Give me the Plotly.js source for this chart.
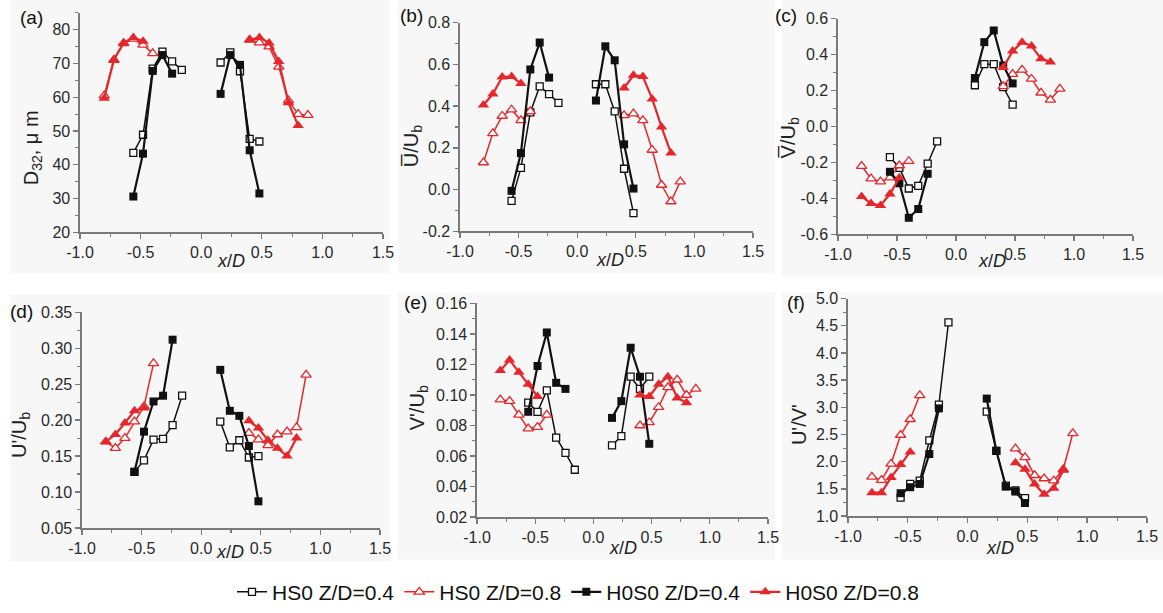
<!DOCTYPE html>
<html><head><meta charset="utf-8">
<script src="https://cdn.plot.ly/plotly-3.0.1.min.js"></script>
<style>html,body{margin:0;padding:0;background:#fff;}</style>
</head><body>
<div id="chart" style="width:1163px;height:613px;"></div>
<script>
// x positions (x/D); null separates the two jet halves
const xHS04  = [-0.56,-0.48,-0.40,-0.32,-0.24,-0.16,null,0.16,0.24,0.32,0.40,0.48];
const xHS08  = [-0.80,-0.72,-0.64,-0.56,-0.48,-0.40,null,0.40,0.48,0.56,0.64,0.72,0.80,0.88];
const xH0S04 = [-0.56,-0.48,-0.40,-0.32,-0.24,null,0.16,0.24,0.32,0.40,0.48];
const xH0S08 = [-0.80,-0.72,-0.64,-0.56,-0.48,null,0.40,0.48,0.56,0.64,0.72,0.80];

const seriesNames = ["HS0 Z/D=0.4","HS0 Z/D=0.8","H0S0 Z/D=0.4","H0S0 Z/D=0.8"];

// (a) D32, um
const a_HS04  = [43.5,48.9,68.5,73.5,70.6,68.1,null,70.3,73.3,67.7,47.7,46.9];
const a_HS08  = [60.5,71.0,76.0,77.3,75.5,73.0,null,77.0,76.2,75.0,69.0,59.0,55.0,54.7];
const a_H0S04 = [30.6,43.3,67.8,72.5,67.0,null,61.0,72.5,69.6,44.3,31.5];
const a_H0S08 = [59.7,71.2,76.1,77.7,76.6,null,77.0,77.7,76.1,70.6,58.4,51.6];
// (b) mean U / Ub
const b_HS04  = [-0.054,0.104,0.37,0.495,0.458,0.416,null,0.505,0.505,0.375,0.10,-0.113];
const b_HS08  = [0.13,0.27,0.353,0.383,0.332,0.375,null,0.356,0.364,0.332,0.19,0.022,-0.057,0.038];
const b_H0S04 = [-0.006,0.175,0.576,0.705,0.537,null,0.427,0.687,0.62,0.217,0.005];
const b_H0S08 = [0.406,0.458,0.54,0.542,0.509,null,0.487,0.548,0.542,0.435,0.30,0.175];
// (c) mean V / Ub
const c_HS04  = [-0.17,-0.23,-0.345,-0.33,-0.206,-0.083,null,0.23,0.347,0.347,0.22,0.122];
const c_HS08  = [-0.22,-0.29,-0.307,-0.285,-0.217,-0.193,null,0.224,0.292,0.316,0.265,0.188,0.149,0.21];
const c_H0S04 = [-0.252,-0.316,-0.508,-0.459,-0.263,null,0.27,0.47,0.535,0.34,0.24];
const c_H0S08 = [-0.39,-0.428,-0.44,-0.376,-0.285,null,0.329,0.42,0.47,0.448,0.378,0.36];
// (d) U' / Ub
const d_HS04  = [0.128,0.144,0.173,0.174,0.193,0.234,null,0.198,0.162,0.172,0.148,0.15];
const d_HS08  = [0.17,0.161,0.175,0.198,0.219,0.279,null,0.182,0.173,0.165,0.18,0.184,0.19,0.263];
const d_H0S04 = [0.128,0.184,0.226,0.234,0.312,null,0.27,0.213,0.206,0.164,0.087];
const d_H0S08 = [0.17,0.18,0.196,0.213,0.217,null,0.199,0.189,0.172,0.161,0.15,0.175];
// (e) V' / Ub
const e_HS04  = [0.095,0.089,0.103,0.072,0.062,0.051,null,0.067,0.073,0.112,0.104,0.112];
const e_HS08  = [0.097,0.096,0.087,0.078,0.079,0.087,null,0.080,0.082,0.092,0.105,0.110,0.100,0.104];
const e_H0S04 = [0.089,0.119,0.141,0.108,0.104,null,0.085,0.096,0.131,0.112,0.068];
const e_H0S08 = [0.116,0.123,0.115,0.107,0.099,null,0.100,0.099,0.107,0.112,0.098,0.095];
// (f) U' / V'
const f_HS04  = [1.34,1.59,1.65,2.39,3.05,4.56,null,2.92,2.20,1.56,1.47,1.33];
const f_HS08  = [1.72,1.66,1.96,2.49,2.78,3.22,null,2.24,2.08,1.75,1.69,1.65,1.86,2.52];
const f_H0S04 = [1.42,1.53,1.59,2.14,2.98,null,3.16,2.20,1.54,1.45,1.24];
const f_H0S08 = [1.43,1.43,1.71,1.95,2.18,null,1.98,1.86,1.59,1.40,1.51,1.84];

// tick labels
const xTickVals = [-1.0,-0.5,0.0,0.5,1.0,1.5];
const xTickText = ["-1.0","-0.5","0.0","0.5","1.0","1.5"];
const yTickVals = [
  [20,30,40,50,60,70,80],
  [-0.2,0.0,0.2,0.4,0.6,0.8],
  [-0.6,-0.4,-0.2,0.0,0.2,0.4,0.6],
  [0.05,0.10,0.15,0.20,0.25,0.30,0.35],
  [0.02,0.04,0.06,0.08,0.10,0.12,0.14,0.16],
  [1.0,1.5,2.0,2.5,3.0,3.5,4.0,4.5,5.0]
];
const yTickText = [
  ["20","30","40","50","60","70","80"],
  ["-0.2","0.0","0.2","0.4","0.6","0.8"],
  ["-0.6","-0.4","-0.2","0.0","0.2","0.4","0.6"],
  ["0.05","0.10","0.15","0.20","0.25","0.30","0.35"],
  ["0.02","0.04","0.06","0.08","0.10","0.12","0.14","0.16"],
  ["1.0","1.5","2.0","2.5","3.0","3.5","4.0","4.5","5.0"]
];
const yMinorDtick = [5,0.1,0.1,0.025,0.01,0.25];

const panelLabels = ["(a)","(b)","(c)","(d)","(e)","(f)"];
const yTitles = ["D<sub>32</sub>, μ m","U\u0305/U<sub>b</sub>","V\u0305/U<sub>b</sub>","U'/U<sub>b</sub>","V'/U<sub>b</sub>","U'/V'"];
const yRanges = [[20,85],[-0.2,0.8],[-0.6,0.6],[0.05,0.35],[0.02,0.16],[1.0,5.0]];

const panelData = [
  [a_HS04,a_HS08,a_H0S04,a_H0S08],
  [b_HS04,b_HS08,b_H0S04,b_H0S08],
  [c_HS04,c_HS08,c_H0S04,c_H0S08],
  [d_HS04,d_HS08,d_H0S04,d_H0S08],
  [e_HS04,e_HS08,e_H0S04,e_H0S08],
  [f_HS04,f_HS08,f_H0S04,f_H0S08]
];
const xSets = [xHS04,xHS08,xH0S04,xH0S08];

// layout geometry (pixels)
const W = 1163, H = 613;
const boxes = [ // [x0,x1,y0(top),y1(bottom)] of plot area
  [80,383,13,235],[460,753,23,234],[838,1133,19,237],
  [82,380,316,534],[477,768,307,523],[848,1147,302,522]
];
const bgBoxes = [
  [10,390,0,277],[398,775,0,277],[782,1163,0,280],
  [10,390,298,568],[398,775,296,566],[782,1163,296,566]
];
const labelPos = [[31,18],[411,16],[786,16],[21,315],[415,306],[796,306]];
const yTitlePos = [[32,150],[412,148],[789,140],[21,440],[418,413],[799,430]];
const xTitlePos = [[231,264],[610,263],[992,264],[230,558],[623,554],[1000,554]];

const RED = "#e5262b", BLK = "#111111", AX = "#7a7a7a";
const styles = [
  {line:{color:BLK,width:1.5}, marker:{symbol:"square",size:7,color:"#ffffff",line:{color:BLK,width:1.3}}},
  {line:{color:RED,width:1.5}, marker:{symbol:"triangle-up",size:9,color:"#ffffff",line:{color:RED,width:1.3}}},
  {line:{color:BLK,width:2.2}, marker:{symbol:"square",size:8,color:BLK,line:{color:BLK,width:0}}},
  {line:{color:RED,width:2.2}, marker:{symbol:"triangle-up",size:10,color:RED,line:{color:RED,width:0}}}
];

const traces = [];
const layout = {
  width:W, height:H, margin:{l:0,r:0,t:0,b:0},
  paper_bgcolor:"#ffffff", plot_bgcolor:"rgba(0,0,0,0)",
  font:{family:"Liberation Sans, Arial, sans-serif", color:"#222"},
  showlegend:true,
  legend:{orientation:"h", x:0.497, xanchor:"center", y:1-599/H, yanchor:"middle",
          font:{size:21,color:"#111"}, bgcolor:"rgba(0,0,0,0)", traceorder:"normal", itemwidth:30},
  shapes:[], annotations:[]
};

for (let p=0; p<6; p++) {
  const xa = p===0 ? "x" : "x"+(p+1);
  const ya = p===0 ? "y" : "y"+(p+1);
  for (let s=0; s<4; s++) {
    traces.push({
      type:"scatter", mode:"lines+markers",
      x:xSets[s], y:panelData[p][s], xaxis:xa, yaxis:ya,
      name:seriesNames[s], legendgroup:seriesNames[s], showlegend:p===0,
      connectgaps:false, cliponaxis:false,
      line:styles[s].line, marker:styles[s].marker
    });
  }
  const b = boxes[p];
  const axX = {
    domain:[b[0]/W, b[1]/W], anchor:ya, range:[-1.0,1.5],
    tickmode:"array", tickvals:xTickVals, ticktext:xTickText,
    showline:true, linecolor:AX, linewidth:1.6, ticks:"outside", ticklen:5, tickwidth:1.4, tickcolor:AX,
    minor:{ticks:"outside", ticklen:3, dtick:0.25, tickcolor:AX, tickwidth:1.1},
    showgrid:false, zeroline:false, tickfont:{size:16,color:"#2a2a2a"}, fixedrange:true
  };
  const axY = {
    domain:[1-b[3]/H, 1-b[2]/H], anchor:xa, range:yRanges[p],
    tickmode:"array", tickvals:yTickVals[p], ticktext:yTickText[p],
    showline:true, linecolor:AX, linewidth:1.6, ticks:"outside", ticklen:5, tickwidth:1.4, tickcolor:AX,
    minor:{ticks:"outside", ticklen:3, dtick:yMinorDtick[p], tick0:yRanges[p][0], tickcolor:AX, tickwidth:1.1},
    showgrid:false, zeroline:false, tickfont:{size:16,color:"#2a2a2a"}, fixedrange:true
  };
  layout[p===0?"xaxis":"xaxis"+(p+1)] = axX;
  layout[p===0?"yaxis":"yaxis"+(p+1)] = axY;

  const g = bgBoxes[p];
  layout.shapes.push({type:"rect", xref:"paper", yref:"paper", layer:"below",
    x0:g[0]/W, x1:g[1]/W, y0:1-g[3]/H, y1:1-g[2]/H, fillcolor:"#f7f7f7", line:{width:0}});

  layout.annotations.push({xref:"paper", yref:"paper", x:labelPos[p][0]/W, y:1-labelPos[p][1]/H,
    text:panelLabels[p], showarrow:false, font:{size:19,color:"#111"}, xanchor:"center", yanchor:"middle"});
  layout.annotations.push({xref:"paper", yref:"paper", x:yTitlePos[p][0]/W, y:1-yTitlePos[p][1]/H,
    text:yTitles[p], textangle:-90, showarrow:false, font:{size:20,color:"#222"}, xanchor:"center", yanchor:"middle"});
  layout.annotations.push({xref:"paper", yref:"paper", x:xTitlePos[p][0]/W, y:1-xTitlePos[p][1]/H,
    text:"<i>x</i>/<i>D</i>", showarrow:false, font:{size:18,color:"#222"}, xanchor:"center", yanchor:"middle"});
}

Plotly.newPlot("chart", traces, layout, {staticPlot:true, displayModeBar:false});
</script>
</body></html>
